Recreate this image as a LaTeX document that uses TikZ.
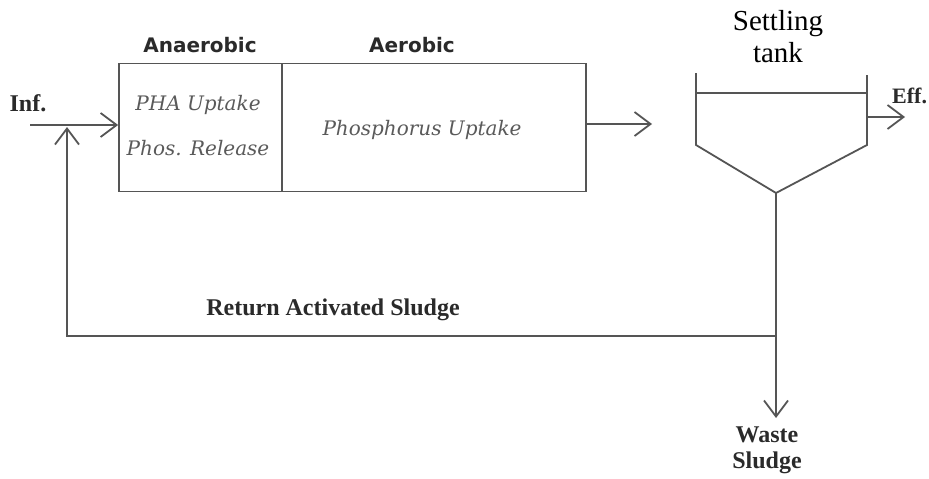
\documentclass[tikz,border=0pt]{standalone}
\usepackage{fontspec}
\usetikzlibrary{arrows.meta}
\newfontfamily\labsans{DejaVu Sans}
\newfontfamily\labserif{Liberation Serif}
\newfontfamily\labital{DejaVu Serif}[ItalicFont={DejaVu Serif Italic}]
\definecolor{linegray}{HTML}{555555}
\definecolor{txtgray}{HTML}{5A5A5A}
\definecolor{txtdark}{HTML}{2A2A2A}
\tikzset{
  ln/.style={draw=linegray, line width=1.8pt},
  arr/.style={ln, -{Straight Barb[length=16pt,width=24pt]}},
  zone/.style={ln, rectangle, inner sep=0pt},
  head/.style={font=\labsans\bfseries\fontsize{20}{24}\selectfont, text=txtdark},
  proc/.style={font=\labital\itshape\fontsize{20}{24}\selectfont, text=txtgray, align=center},
  flow/.style={font=\labserif\bfseries\fontsize{24}{29}\selectfont, text=txtdark, align=center},
  title/.style={font=\labserif\fontsize{29}{35}\selectfont, text=black, align=center}
}
\begin{document}
\begin{tikzpicture}[x=1pt,y=-1pt]
\useasboundingbox[fill=white] (0,0) rectangle (929,479);
% reactor zones
\node[zone, minimum width=163pt, minimum height=128pt] (ana) at (200.5,127.5) {};
\node[zone, minimum width=304pt, minimum height=128pt] (aer) at (434,127.5) {};
\node[head] (anat) at (200,45) {Anaerobic};
\node[head] (aert) at (412,45) {Aerobic};
\node[proc] (pha) at (198,105) {\itshape PHA Uptake};
\node[proc] (phos) at (198,148) {\itshape Phos. Release};
\node[proc] (pup) at (422,130) {\itshape Phosphorus Uptake};
% settling tank
\coordinate (tl) at (696,73);
\coordinate (tr) at (867,75);
\coordinate (ml) at (696,145);
\coordinate (mr) at (867,145);
\coordinate (bot) at (776,193);
\draw[ln] (tl) -- (ml) -- (bot) -- (mr) -- (tr);
\draw[ln] (696,93) -- (867,93);
\node[title] (st) at (778,37) {Settling\\[-3pt]tank};
% flows
\coordinate (inf0) at (30,125);
\node[flow] (inft) at (28,103) {Inf.};
\draw[arr] (inf0) -- (ana.west |- inf0);
\coordinate (aerout) at (aer.east |- 0,124);
\coordinate (tankin) at (652,124);
\draw[arr] (aerout) -- (tankin);
\coordinate (eff0) at (867,117);
\coordinate (eff1) at (905,117);
\node[flow, anchor=west, inner sep=0pt, font=\labserif\bfseries\fontsize{22}{26}\selectfont] (efft) at (892,96) {Eff.};
\draw[arr] (eff0) -- (eff1);
\coordinate (junc) at (776,336);
\coordinate (retc) at (67,336);
\coordinate (rettip) at (67,127);
\coordinate (waste) at (776,418);
\draw[ln] (bot) -- (junc);
\draw[arr] (junc) -- (waste);
\draw[arr] (junc) -- (retc) -- (rettip);
\node[flow] (rast) at (333,310) {Return Activated Sludge};
\node[flow] (wst) at (767,450) {Waste\\[-3pt]Sludge};
\end{tikzpicture}
\end{document}
